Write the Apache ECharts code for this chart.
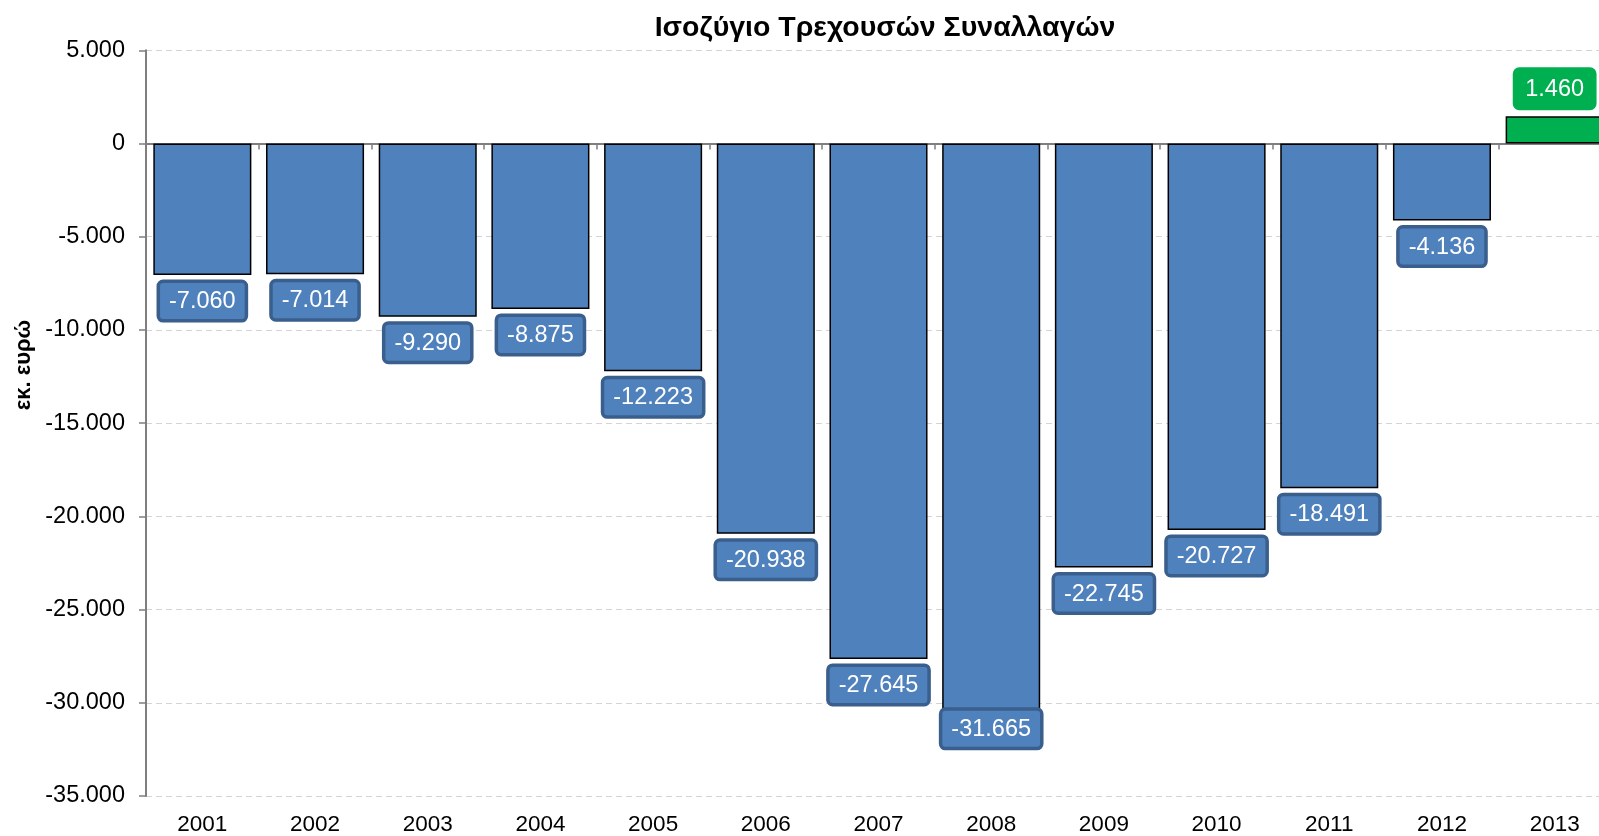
<!DOCTYPE html>
<html>
<head>
<meta charset="utf-8">
<script src="https://cdn.jsdelivr.net/npm/echarts@6/dist/echarts.min.js"></script>
<style>
html,body{margin:0;padding:0;background:#fff;overflow:hidden;width:1599px;height:836px;}
#chart{width:1611px;height:836px;}
</style>
</head>
<body>
<div id="chart"></div>
<script>
const titleText = 'Ισοζύγιο Τρεχουσών Συναλλαγών';
const yAxisTitle = 'εκ. ευρώ';
const years = ['2001','2002','2003','2004','2005','2006','2007','2008','2009','2010','2011','2012','2013'];
const balance = [-7060, -7014, -9290, -8875, -12223, -20938, -27645, -31665, -22745, -20727, -18491, -4136, 1460];
const yMin = -35000, yMax = 5000, yStep = 5000;

const FONT = '"Liberation Sans", Arial, sans-serif';
const BLUE = '#4f81bd', BLUE_DARK = '#3a5f8d', GREEN = '#00b050';

function fmt(v){
  const s = Math.abs(Math.round(v)).toString().replace(/\B(?=(\d{3})+(?!\d))/g, '.');
  return (v < 0 ? '-' : '') + s;
}

const minVal = Math.min.apply(null, balance);
const seriesData = balance.map(v => {
  const pos = v >= 0;
  const lbl = {
    position: pos ? 'top' : 'bottom',
    distance: pos ? 9.5 : 8,
    backgroundColor: pos ? GREEN : BLUE,
    borderColor: pos ? GREEN : BLUE_DARK
  };
  if (v === minVal) lbl.offset = [0, -31];
  return { value: v, itemStyle: { color: pos ? GREEN : BLUE }, label: lbl };
});

const chart = echarts.init(document.getElementById('chart'), null, {renderer: 'canvas'});
chart.setOption({
  backgroundColor: '#fff',
  animation: false,
  title: {
    text: titleText,
    left: 880,
    textAlign: 'center',
    top: 9,
    textStyle: { fontFamily: FONT, fontSize: 28.5, fontWeight: 'bold', color: '#000' }
  },
  graphic: [{
    type: 'text',
    x: 24, y: 365,
    rotation: Math.PI / 2,
    style: {
      text: yAxisTitle,
      fontFamily: FONT, fontSize: 22, fontWeight: 'bold', fill: '#000',
      textAlign: 'center', textVerticalAlign: 'middle'
    }
  }],
  grid: { left: 146, top: 50.25, right: 0, height: 746, containLabel: false },
  xAxis: [{
    type: 'category',
    data: years,
    position: 'bottom',
    axisLine: { show: false, onZero: false },
    axisTick: { show: false },
    axisLabel: { fontFamily: FONT, fontSize: 22.5, color: '#000', margin: 17 },
    splitLine: { show: false }
  }, {
    type: 'category',
    data: years,
    position: 'bottom',
    axisLine: { show: true, onZero: true, lineStyle: { color: '#7f7f7f', width: 2 } },
    axisTick: { show: true, length: 6, lineStyle: { color: '#7f7f7f', width: 1.5 } },
    axisLabel: { show: false },
    splitLine: { show: false }
  }],
  yAxis: {
    type: 'value',
    min: yMin, max: yMax, interval: yStep,
    axisLine: { show: true, lineStyle: { color: '#7f7f7f', width: 2 } },
    axisTick: { show: true, length: 7, lineStyle: { color: '#7f7f7f', width: 1.5 } },
    axisLabel: { fontFamily: FONT, fontSize: 23.5, color: '#000', margin: 21, formatter: fmt },
    splitLine: { show: true, lineStyle: { color: '#d4d4d4', type: [6, 4], width: 1.2 } }
  },
  series: [{
    type: 'bar',
    xAxisIndex: 0,
    data: seriesData,
    barCategoryGap: '13%',
    itemStyle: { borderColor: '#000', borderWidth: 1.5 },
    label: {
      show: true,
      formatter: p => fmt(p.value),
      fontFamily: FONT, fontSize: 23.5, color: '#fff',
      lineHeight: 23,
      borderWidth: 3.5,
      borderRadius: 3,
      padding: [7, 9, 6, 9]
    }
  }]
});
</script>
</body>
</html>
